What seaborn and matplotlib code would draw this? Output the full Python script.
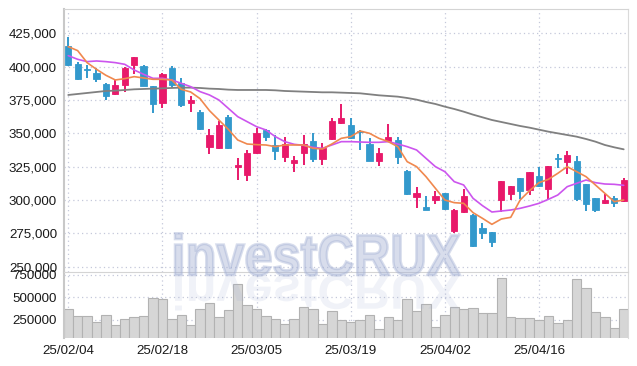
import numpy as np
import pandas as pd
import matplotlib
matplotlib.use("Agg")
import matplotlib.pyplot as plt
import seaborn as sns
from matplotlib.textpath import TextPath
from matplotlib.patches import PathPatch
from matplotlib.font_manager import FontProperties
from matplotlib.transforms import Affine2D, IdentityTransform

# daily OHLC, 25/02/04 .. 25/04/29 (60 trading days)
opens = [415500, 402000, 398250, 395500, 387000, 379750, 386250, 401500, 400500, 385500,
         373000, 399000, 387500, 372500, 366000, 340000, 339000, 362250, 325000, 319000,
         335000, 352500, 341250, 332500, 328000, 335000, 344250, 330500, 345500, 358000,
         356000, 352000, 342000, 329500, 344500, 345000, 321750, 302000, 294500, 299750,
         305000, 277000, 291250, 289000, 279250, 276000, 300000, 304250, 316750, 307500,
         318000, 308000, 331250, 328750, 329250, 312000, 301750, 297500, 301500, 299500]
highs = [422500, 403500, 401000, 398750, 388000, 390000, 400000, 407500, 401000, 385500,
         395000, 400500, 391250, 378000, 367500, 353500, 359500, 363750, 331250, 337500,
         354000, 353250, 348750, 347500, 333000, 348750, 350000, 343000, 361250, 371750,
         361750, 352500, 346250, 338750, 356750, 347500, 322500, 309500, 303250, 306500,
         305500, 293000, 308000, 289500, 282500, 276250, 314250, 310500, 316750, 321250,
         324500, 325500, 334500, 336500, 333250, 312000, 301750, 304500, 303000, 316250]
lows = [400500, 390000, 391750, 388250, 374750, 378500, 381000, 394750, 385500, 365500,
        369000, 384000, 370000, 366250, 352500, 334500, 338500, 338500, 315000, 314500,
        334500, 344250, 330000, 328250, 320750, 326250, 328250, 326250, 345000, 357000,
        345500, 337500, 329500, 325500, 343750, 326750, 303500, 293750, 292250, 297000,
        292500, 275500, 290500, 265000, 270500, 265000, 291250, 300000, 300500, 303750,
        310000, 300000, 323750, 319500, 299500, 292000, 291250, 296750, 295000, 298750]
closes = [401500, 391000, 397500, 391000, 378250, 386250, 399000, 407000, 385500, 372000,
          394500, 386250, 371250, 375000, 353500, 348500, 356000, 339000, 326000, 335000,
          350000, 347000, 337000, 342000, 330000, 341750, 330500, 338750, 359250, 361500,
          346250, 351250, 329500, 335000, 347000, 332500, 304250, 305000, 292250, 303000,
          293250, 292500, 303000, 265500, 275500, 268750, 314250, 310500, 307000, 321250,
          310750, 325500, 330500, 333750, 300500, 297000, 292500, 300000, 297500, 315000]
volumes = [368000, 294000, 294000, 228000, 305000, 194000, 257000, 283000, 294000, 491000,
           480000, 257000, 305000, 194000, 368000, 435000, 280000, 357000, 646000, 417000,
           368000, 294000, 257000, 205000, 257000, 394000, 368000, 205000, 346000, 246000,
           228000, 246000, 305000, 146000, 283000, 246000, 480000, 346000, 428000, 168000,
           305000, 394000, 368000, 380000, 328000, 328000, 713000, 283000, 268000, 268000,
           246000, 294000, 213000, 246000, 702000, 602000, 339000, 283000, 157000, 368000]
# moving averages as drawn
ma_short = [415000, 412000, 403000, 398000, 393500, 390000, 391000, 392500, 391500, 390500,
            390500, 390000, 383000, 381000, 376000, 367000, 360000, 353000, 345000, 342000,
            341500, 341250, 340000, 341250, 341250, 341250, 338750, 338250, 342000, 346250,
            347500, 351750, 350000, 346250, 343750, 340000, 328750, 325000, 317500, 308750,
            300000, 298000, 297500, 290500, 286250, 281750, 285750, 287000, 300000, 307000,
            313000, 315500, 320000, 325000, 321250, 317500, 311250, 305000, 298750, 300000]
ma_mid = [408250, 405500, 403750, 404250, 403750, 403000, 401750, 397500, 394250, 391250,
          391250, 390000, 387500, 385000, 381250, 378750, 375000, 368750, 362500, 358750,
          355000, 352500, 347500, 343750, 341750, 341000, 339500, 338750, 341250, 343750,
          343750, 343500, 343250, 343250, 343750, 342000, 340000, 337500, 331250, 325000,
          321250, 313750, 311250, 301250, 295750, 291000, 291750, 292500, 293750, 295500,
          297500, 300500, 303750, 310000, 312500, 315000, 313000, 312000, 311750, 311000]
ma_long = [378750, 379500, 380250, 381000, 381750, 382000, 382500, 383000, 383250, 383500,
           383750, 384000, 384250, 384250, 384000, 383500, 383250, 382750, 382500, 382500,
           382500, 382500, 382250, 381750, 381500, 381250, 381000, 380750, 380750, 380500,
           380250, 380000, 379250, 378500, 378000, 377500, 376500, 375250, 373500, 372000,
           370000, 368250, 366250, 364000, 362000, 360000, 358500, 357000, 355500, 354250,
           352750, 351250, 350000, 348750, 347500, 345750, 343750, 341250, 339500, 338000]
tick_days = [0, 10, 20, 30, 40, 50]
tick_labels = ["25/02/04", "25/02/18", "25/03/05", "25/03/19", "25/04/02", "25/04/16"]

df = pd.DataFrame({"day": np.arange(len(opens)), "open": opens, "high": highs,
                   "low": lows, "close": closes, "volume": volumes,
                   "ma_short": ma_short, "ma_mid": ma_mid, "ma_long": ma_long})

sns.set_style("white")
plt.rcParams["font.family"] = ["Liberation Sans", "DejaVu Sans"]

UP = "#e8196a"
DOWN = "#3399cc"
GRID = "#c4c8da"
LABEL_SIZE = 9.6

fig = plt.figure(figsize=(6.37, 3.66), dpi=100)
ax = fig.add_axes([0.1005, 0.2568, 0.886, 0.7178])
axv = fig.add_axes([0.1005, 0.0765, 0.886, 0.1803])

# candles
up = df["close"] >= df["open"]
colors = np.where(up, UP, DOWN)
body_lo = np.minimum(df["open"], df["close"])
body_h = np.maximum((df["close"] - df["open"]).abs(), 700)
ax.vlines(df["day"], df["low"], df["high"], colors=colors, lw=1.4, zorder=3)
ax.bar(df["day"], body_h, bottom=body_lo, width=0.66, color=colors,
       edgecolor=colors, linewidth=0.6, zorder=4)

sns.lineplot(data=df, x="day", y="ma_long", ax=ax, color="#808080", lw=1.3, zorder=5)
sns.lineplot(data=df, x="day", y="ma_mid", ax=ax, color="#cc55ee", lw=1.2, zorder=6)
sns.lineplot(data=df, x="day", y="ma_short", ax=ax, color="#f0884e", lw=1.2, zorder=7)

ax.set_xlim(-0.45, 59.5)
ax.set_ylim(246000, 443000)
ax.set_yticks(range(250000, 425001, 25000))
ax.set_yticklabels([f"{v:,}" for v in range(250000, 425001, 25000)])
ax.set_xticks(tick_days)
ax.set_xticklabels([])
ax.set_xlabel("")
ax.set_ylabel("")
ax.grid(True, ls=(0, (1, 2.5)), color=GRID, lw=0.9)
ax.set_axisbelow(True)
ax.tick_params(length=0, pad=5, labelsize=LABEL_SIZE, labelcolor="#1a1a1a")

# volume
sns.barplot(data=df, x="day", y="volume", ax=axv, color="#d6d6d6", saturation=1,
            edgecolor="#b2b2b2", linewidth=0.8, width=1.0, zorder=2)
axv.set_xlim(-0.45, 59.5)
axv.set_ylim(50000, 783000)
axv.set_yticks([250000, 500000, 750000])
axv.set_yticklabels(["250000", "500000", "750000"])
axv.set_xticks(tick_days)
axv.set_xticklabels(tick_labels)
axv.set_xlabel("")
axv.set_ylabel("")
axv.grid(True, ls=(0, (1, 2.5)), color=GRID, lw=0.9)
axv.set_axisbelow(True)
axv.tick_params(length=0, pad=5, labelsize=LABEL_SIZE, labelcolor="#1a1a1a")

for a in (ax, axv):
    a.spines["left"].set_color("#c8c8c8")
    a.spines["left"].set_linewidth(1.5)
    a.spines["right"].set_color("#dadada")
    a.spines["top"].set_color("#d4d4d4")
    a.spines["bottom"].set_visible(False)

# watermark with reflection
tp = TextPath((0, 0), "investCRUX", size=1,
              prop=FontProperties(family="Liberation Sans", weight="bold"))
ext = tp.get_extents()
sx = 285 / ext.width
sy = 42 / 0.729
base = 366 - 275
tr = Affine2D().translate(-ext.x0, 0).scale(sx, sy).translate(175, base)
fig.add_artist(PathPatch(tp, transform=tr + IdentityTransform(), fc="#a3b0d4",
                         ec="#a3b0d4", lw=1.8, alpha=0.42, zorder=10))
trr = Affine2D().translate(-ext.x0, 0).scale(sx, -sy * 0.85).translate(175, base)
fig.add_artist(PathPatch(tp, transform=trr + IdentityTransform(), fc="#a3b0d4",
                         ec="none", alpha=0.16, zorder=10))

fig.savefig("out.png", dpi=100)
